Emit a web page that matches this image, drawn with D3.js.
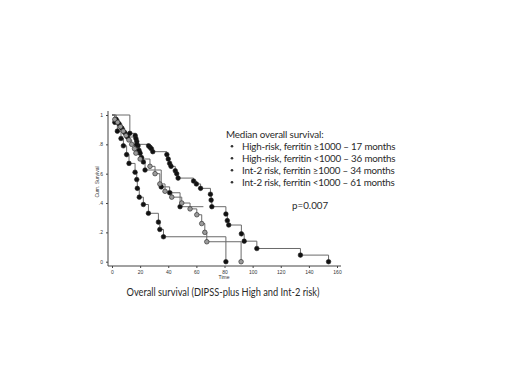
<!DOCTYPE html>
<html>
<head>
<meta charset="utf-8">
<script src="https://cdn.jsdelivr.net/npm/d3@7"></script>
<style>
  body { margin: 0; background: #fff; }
  svg { display: block; }
  .tick text { font-family: "Liberation Sans", Arial, sans-serif; font-size: 5px; fill: #333; }
  .note { font-family: Lato, "Open Sans", sans-serif; fill: #2a2a2a; }
</style>
</head>
<body>
<div id="chart"></div>
<script>
// Kaplan-Meier step vertices (time in months, cumulative survival)
const hiHighTime = [0, 2, 3.8, 6.4, 8.1, 10.4, 12.1, 16.4, 17.6, 18, 19.4, 22.3, 25.9, 33, 34, 36.6, 81];
const hiHighSurv = [1, .95, .89, .84, .79, .73, .67, .61, .56, .50, .44, .39, .33, .27, .22, .17, 0];

const hiLowTime = [0, 2, 4, 6, 8, 10, 12, 14, 16, 17, 20, 27, 30.6, 34, 37.7, 42.5, 49.6, 55.5, 60.3, 63.8, 66, 67.4, 91.8];
const hiLowSurv = [1, .97, .95, .92, .89, .86, .83, .80, .77, .74, .70, .65, .60, .53, .48, .44, .40, .36, .32, .26, .20, .136, 0];

const intHighTime = [0, 3, 5, 7, 9, 11, 17.6, 18.5, 19.2, 20, 21, 22.3, 23.5, 35, 41, 48.4];
const intHighSurv = [1, .97, .94, .91, .88, .85, .82, .79, .76, .74, .71, .68, .625, .51, .47, .375];
const intHighEnd = 65;

const intLowTime = [0, 12.7, 16.5, 17, 17.6, 26, 27, 28, 29, 39, 40, 41, 42, 45, 46, 47, 58, 60, 63, 70, 70.5, 71, 81, 82, 83, 92, 94, 103, 134, 154];
const intLowSurv = [1, .875, .86, .84, .80, .79, .78, .77, .75, .73, .70, .67, .65, .62, .60, .57, .55, .53, .50, .46, .42, .375, .325, .28, .25, .19, .14, .09, .045, 0];

const xTicks = [0, 20, 40, 60, 80, 100, 120, 140, 160];
const yTicks = [0, .2, .4, .6, .8, 1];
const yTickLabels = ["0", ".2", ".4", ".6", ".8", "1"];

const legendTitle = "Median overall survival:";
const legendItems = [
  "High-risk, ferritin \u22651000 \u2013 17 months",
  "High-risk, ferritin <1000 \u2013 36 months",
  "Int-2 risk, ferritin \u22651000 \u2013 34 months",
  "Int-2 risk, ferritin <1000 \u2013 61 months"
];
const pValue = "p=0.007";
const caption = "Overall survival (DIPSS-plus High and Int-2 risk)";

const curves = [
  { time: hiHighTime, surv: hiHighSurv, fill: "#111" },
  { time: intHighTime, surv: intHighSurv, end: intHighEnd, fill: "#111" },
  { time: hiLowTime, surv: hiLowSurv, fill: "#9a9a9a" },
  { time: intLowTime, surv: intLowSurv, fill: "#111" }
];

const width = 520, height = 390;
const svg = d3.select("#chart").append("svg")
  .attr("width", width)
  .attr("height", height);

const x = d3.scaleLinear().domain([0, 160]).range([112, 337]);
const y = d3.scaleLinear().domain([0, 1]).range([261.7, 115]);

// axes (offset from the data like the SPSS original)
const xAxis = svg.append("g")
  .attr("transform", "translate(0,266)")
  .call(d3.axisBottom(x).tickValues(xTicks).tickSize(2).tickPadding(2));
xAxis.select(".domain").attr("d", "M108,0H341").attr("stroke", "#444");
xAxis.selectAll(".tick line").attr("stroke", "#444");

const yAxis = svg.append("g")
  .attr("transform", "translate(108,0)")
  .call(d3.axisLeft(y).tickValues(yTicks).tickFormat((d, i) => yTickLabels[i]).tickSize(2).tickPadding(3));
yAxis.select(".domain").attr("d", "M0,111V266").attr("stroke", "#444");
yAxis.selectAll(".tick line").attr("stroke", "#444");

svg.append("text")
  .attr("x", 224).attr("y", 279)
  .attr("text-anchor", "middle")
  .style("font-family", "Liberation Sans, Arial, sans-serif")
  .style("font-size", "5px").attr("fill", "#333")
  .text("Time");

svg.append("text")
  .attr("transform", "translate(99,182) rotate(-90)")
  .attr("text-anchor", "middle")
  .style("font-family", "Liberation Sans, Arial, sans-serif")
  .style("font-size", "5px").attr("fill", "#333")
  .text("Cum. Survival");

const line = d3.line()
  .x(d => x(d[0]))
  .y(d => y(d[1]))
  .curve(d3.curveStepAfter);

curves.forEach(c => {
  const pts = c.time.map((t, i) => [t, c.surv[i]]);
  if (c.end !== undefined) pts.push([c.end, c.surv[c.surv.length - 1]]);
  svg.append("path")
    .attr("d", line(pts))
    .attr("fill", "none")
    .attr("stroke", "#6a6a6a")
    .attr("stroke-width", 1);
});

curves.forEach(c => {
  const pts = c.time.map((t, i) => [t, c.surv[i]]).slice(1);
  svg.append("g").selectAll("circle")
    .data(pts)
    .join("circle")
    .attr("cx", d => x(d[0]))
    .attr("cy", d => y(d[1]))
    .attr("r", 2.3)
    .attr("fill", c.fill)
    .attr("stroke", "#222")
    .attr("stroke-width", 0.6);
});

// legend text
svg.append("text")
  .attr("class", "note")
  .attr("x", 226).attr("y", 137.5)
  .style("font-size", "9.8px")
  .style("letter-spacing", "-0.15px")
  .text(legendTitle);

legendItems.forEach((t, i) => {
  const yy = 149.5 + i * 12;
  svg.append("circle")
    .attr("cx", 232).attr("cy", yy - 3.3).attr("r", 1.3).attr("fill", "#333");
  svg.append("text")
    .attr("class", "note")
    .attr("x", 242).attr("y", yy)
    .style("font-size", "9.8px")
    .style("letter-spacing", "-0.2px")
    .text(t);
});

svg.append("text")
  .attr("class", "note")
  .attr("x", 292).attr("y", 208.5)
  .style("font-size", "9.8px")
  .text(pValue);

svg.append("text")
  .attr("class", "note")
  .attr("x", 126.5).attr("y", 295.5)
  .attr("textLength", 193)
  .attr("lengthAdjust", "spacingAndGlyphs")
  .style("font-size", "10.8px")
  .text(caption);
</script>
</body>
</html>
